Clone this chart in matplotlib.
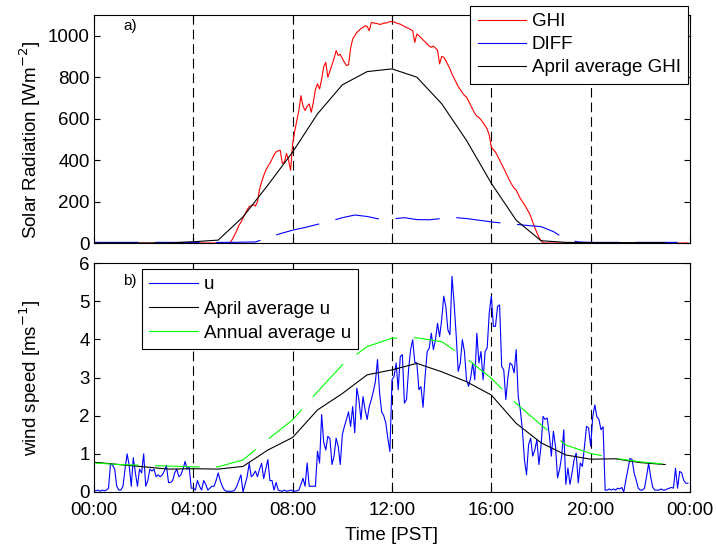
import numpy as np
import matplotlib
matplotlib.use('Agg')
import matplotlib.pyplot as plt

plt.rcParams['font.family'] = ['Liberation Sans', 'DejaVu Sans']
plt.rcParams['font.size'] = 13.5
plt.rcParams['lines.scale_dashes'] = False

# 5-minute grid for the day
t5 = np.arange(288) / 12.0
# hourly grid for the averages
t_hour = np.arange(24)
# half-hour grid for diffuse
t_half = np.arange(48) / 2.0

# GHI from 05:25 to 18:15 (5-min), zero otherwise
ghi_day = [0, 5, 20, 40, 60, 85, 100,
           120, 140, 160, 175, 180, 185, 178, 200, 260, 295, 325, 350,
           370, 384, 405, 425, 440, 445, 447, 384, 390, 432, 400, 351,
           479, 540, 591, 640, 711, 660, 639, 660, 671, 631, 680, 740,
           768, 743, 790, 850, 872, 800, 830, 860, 890, 928, 905, 910,
           890, 872, 856, 860, 940, 984, 1000, 1016, 1025, 1035, 1040, 1048,
           1045, 1024, 1064, 1062, 1060, 1058, 1055, 1056, 1062, 1060, 1065, 1068,
           1068, 1066, 1062, 1058, 1056, 1050, 1045, 1040, 1035, 1030, 1024, 968,
           1008, 1000, 990, 980, 970, 960, 950, 944, 950, 940, 930, 864,
           900, 896, 880, 860, 840, 815, 795, 775, 755, 740, 725, 712,
           704, 685, 665, 645, 625, 612, 605, 595, 580, 565, 550, 520,
           463, 450, 439, 420, 400, 380, 360, 340, 318, 298, 280, 265,
           255, 235, 215, 200, 185, 168, 150, 130, 100, 75, 50, 28,
           10, 2, 0]
ghi_start = 65
ghi = np.zeros(288)
ghi[ghi_start:ghi_start + len(ghi_day)] = ghi_day

diff = [3, 3, 3, 3, 3, 3, 3, 3, 3, 3, 3, 3,
        4, 5, 25, 45, 62, 75, 90, 105, 122, 135, 128, 115,
        116, 122, 113, 112, 118, 123, 118, 110, 102, 95, 90, 84,
        79, 55, 18, 5, 3, 3, 3, 3, 3, 3, 3, 3]

ghi_april = [0, 0, 0, 0, 6, 14, 126, 279, 439, 623, 763, 827,
             840, 800, 672, 495, 288, 110, 11, 3, 2, 2, 2, 2]

u = [0.05, 0.03, 0.05, 0.02, 0.05, 0.03, 0.05, 0.1, 0.75, 0.7, 0.6, 0.15,
     0.05, 0.05, 0.15, 0.6, 1.0, 0.7, 0.15, 0.9, 0.5, 0.15, 0.6, 0.5,
     1.0, 0.15, 0.3, 0.6, 0.55, 0.6, 0.4, 0.45, 0.4, 0.45, 0.55, 0.7,
     0.25, 0.25, 0.3, 0.5, 0.6, 0.4, 0.45, 0.6, 0.8, 0.6, 0.65, 0.1,
     0.1, 0.05, 0.3, 0.15, 0.05, 0.3, 0.2, 0.05, 0.1, 0.15, 0.15, 0.3,
     0.5, 0.3, 0.15, 0.05, 0.02, 0.02, 0.02, 0.02, 0.05, 0.15, 0.3, 0.45,
     0.0, 0.2, 0.4, 0.75, 0.4, 0.45, 0.55, 0.4, 0.6, 0.75, 0.35, 0.6,
     0.85, 0.3, 0.3, 0.05, 0.25, 0.05, 0.03, 0.02, 0.05, 0.02, 0.03, 0.05,
     0.03, 0.02, 0.03, 0.05, 0.2, 0.36, 0.15, 0.76, 0.15, 0.15, 0.15, 0.15,
     1.07, 0.76, 2.03, 1.3, 1.1, 1.46, 1.4, 0.72, 0.94, 1.41, 1.2, 0.72,
     1.5, 1.72, 1.9, 2.1, 1.72, 2.24, 1.55, 2.72, 2.42, 1.9, 2.5, 2.15,
     1.9, 2.24, 2.42, 2.64, 2.9, 3.47, 2.6, 2.1, 2.0, 1.81, 1.4, 1.06,
     2.94, 3.03, 3.38, 2.68, 3.55, 3.6, 2.33, 2.42, 3.2, 3.73, 3.99, 3.4,
     3.38, 2.68, 2.76, 2.22, 3.03, 3.68, 3.77, 4.16, 3.73, 3.99, 4.42, 4.07,
     4.51, 5.13, 4.86, 4.25, 4.12, 5.65, 4.95, 4.12, 3.16, 3.38, 3.99, 3.68,
     2.94, 2.77, 2.99, 3.38, 2.94, 4.16, 3.38, 3.68, 2.94, 3.68, 3.78, 4.7,
     5.13, 4.34, 4.34, 4.86, 4.9, 3.29, 3.2, 2.42, 3.0, 3.38, 3.33, 3.12,
     3.73, 2.5, 2.15, 1.63, 0.85, 0.45, 1.24, 1.41, 0.94, 1.1, 1.37, 0.72,
     1.2, 1.98, 1.9, 1.94, 1.5, 0.94, 1.59, 1.2, 0.37, 0.6, 0.94, 1.63,
     0.2, 0.63, 0.2, 0.5, 0.85, 1.02, 0.24, 0.76, 0.67, 1.2, 1.72, 1.68,
     1.2, 1.97, 2.28, 1.97, 1.9, 1.63, 1.71, 0.05, 0.05, 0.08, 0.05, 0.08,
     0.05, 0.1, 0.08, 0.12, 0.0, 0.31, 0.6, 0.88, 0.85, 0.5, 0.31, 0.1,
     0.05, 0.05, 0.1, 0.4, 0.75, 0.4, 0.12, 0.05, 0.05, 0.05, 0.08, 0.05,
     0.05, 0.08, 0.1, 0.12, 0.1, 0.62, 0.1, 0.54, 0.5, 0.3, 0.23, 0.23]

u_april = [0.78, 0.72, 0.66, 0.6, 0.61, 0.6, 0.67, 1.1, 1.43, 2.15, 2.58, 3.07,
           3.2, 3.37, 3.15, 2.89, 2.54, 1.8, 1.29, 0.97, 0.86, 0.87, 0.77, 0.72]
u_annual = [0.76, 0.72, 0.7, 0.68, 0.66, 0.66, 0.84, 1.38, 1.89, 2.63, 3.33, 3.81,
            4.03, 4.04, 3.94, 3.5, 2.98, 2.32, 1.76, 1.23, 1.01, 0.88, 0.79, 0.73]

tick_hours = [0, 4, 8, 12, 16, 20, 24]
tick_labels = ['00:00', '04:00', '08:00', '12:00', '16:00', '20:00', '00:00']
guide_hours = [4, 8, 12, 16, 20]

long_dash = (32, 12)
guide_dash = (7, 3.5)
lw = 0.8

fig = plt.figure(figsize=(7.16, 5.44), dpi=100)
ax1 = fig.add_axes([94 / 716, 1 - 243 / 544, 596 / 716, 228 / 544])
ax2 = fig.add_axes([94 / 716, 1 - 492 / 544, 596 / 716, 229 / 544])

# a) solar radiation
for h in guide_hours:
    ax1.axvline(h, color='k', lw=lw, dashes=guide_dash)
l1, = ax1.plot(t5, ghi, color='r', lw=lw, label='GHI')
l2, = ax1.plot(t_half, diff, color='b', lw=lw, dashes=long_dash, label='DIFF')
l3, = ax1.plot(t_hour, ghi_april, color='k', lw=lw, label='April average GHI')
ax1.set_xlim(0, 24)
ax1.set_ylim(0, 1100)
ax1.set_yticks([0, 200, 400, 600, 800, 1000])
ax1.set_xticks(tick_hours)
ax1.set_xticklabels([])
ax1.set_ylabel('Solar Radiation [Wm$^{-2}$]')
ax1.yaxis.set_label_coords(-0.086, 0.45)
ax1.text(0.049, 0.952, 'a)', transform=ax1.transAxes, fontsize=11, va='center')
l2_leg = plt.Line2D([], [], color='b', lw=lw)
leg1 = ax1.legend([l1, l2_leg, l3], ['GHI', 'DIFF', 'April average GHI'],
                  loc='upper right', bbox_to_anchor=(688 / 716, 1 - 6 / 544),
                  bbox_transform=fig.transFigure, borderaxespad=0,
                  fancybox=False, edgecolor='k', framealpha=1,
                  handlelength=2.6, handletextpad=0.3, labelspacing=0.32,
                  borderpad=0.38)
leg1.get_frame().set_linewidth(0.8)

# b) wind speed
for h in guide_hours:
    ax2.axvline(h, color='k', lw=lw, dashes=guide_dash)
m1, = ax2.plot(t5, u, color='b', lw=lw, label='u')
m2, = ax2.plot(t_hour, u_april, color='k', lw=lw, label='April average u')
m3, = ax2.plot(t_hour, u_annual, color=(0, 1, 0), lw=lw, dashes=long_dash,
               label='Annual average u')
ax2.set_xlim(0, 24)
ax2.set_ylim(0, 6)
ax2.set_xticks(tick_hours)
ax2.set_xticklabels(tick_labels)
ax2.set_xlabel('Time [PST]', labelpad=6)
ax2.set_ylabel('wind speed [ms$^{-1}$]')
ax2.yaxis.set_label_coords(-0.086, 0.5)
ax2.text(0.049, 0.921, 'b)', transform=ax2.transAxes, fontsize=11, va='center')
m3_leg = plt.Line2D([], [], color=(0, 1, 0), lw=lw)
leg2 = ax2.legend([m1, m2, m3_leg], ['u', 'April average u', 'Annual average u'],
                  loc='upper left', bbox_to_anchor=(142 / 716, 1 - 269 / 544),
                  bbox_transform=fig.transFigure, borderaxespad=0,
                  fancybox=False, edgecolor='k', framealpha=1,
                  handlelength=2.6, handletextpad=0.3, labelspacing=0.38,
                  borderpad=0.38)
leg2.get_frame().set_linewidth(0.8)

for ax in (ax1, ax2):
    ax.tick_params(direction='in', top=True, right=True, length=4)
    ax.tick_params(axis='y', pad=3)
    ax.tick_params(axis='x', pad=7)

plt.savefig('out.png', dpi=100)
